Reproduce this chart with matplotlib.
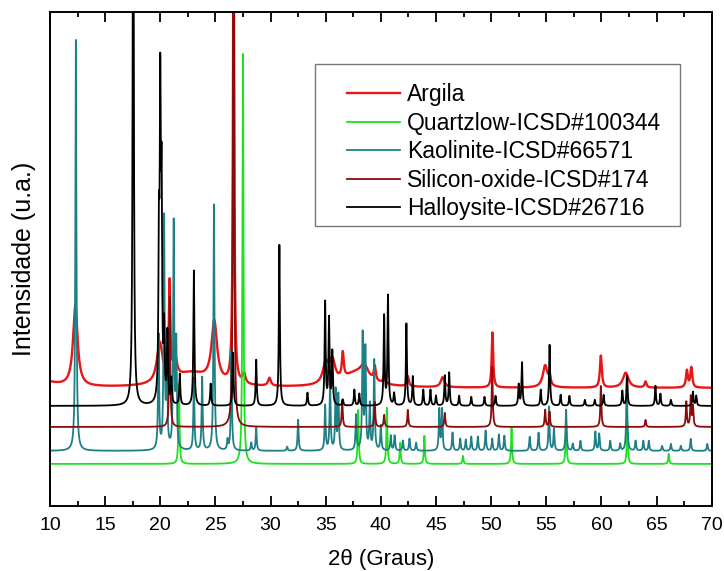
import numpy as np
import matplotlib
matplotlib.use("Agg")
import matplotlib.pyplot as plt
from matplotlib.patches import Rectangle

# peak lists: 2theta, height (px units), half width
argila_pos = [9.0, 12.3, 19.95, 20.85, 21.35, 22.8, 24.9, 26.65, 27.6, 29.9,
              35.0, 35.6, 36.55, 37.8, 38.5, 39.45, 40.3, 42.45, 45.6, 50.12,
              54.9, 55.3, 59.95, 62.2, 64.0, 67.75, 68.15]
argila_h   = [8, 80, 40, 95, 20, 14, 60, 480, 10, 8,
              20, 22, 25, 14, 12, 14, 8, 10, 10, 55,
              22, 10, 32, 15, 6, 17, 20]
argila_w   = [1.5, 0.25, 0.3, 0.08, 0.2, 2.0, 0.3, 0.07, 0.15, 0.15,
              0.3, 0.3, 0.1, 1.5, 0.4, 0.1, 0.1, 0.1, 0.2, 0.08,
              0.25, 0.1, 0.1, 0.3, 0.1, 0.1, 0.1]

quartz_pos = [21.7, 27.5, 37.95, 40.55, 41.75, 43.95, 47.45, 51.85, 56.8, 62.35, 66.1]
quartz_h   = [80, 410, 54, 56, 21, 28, 8, 36, 42, 42, 10]

kaol_pos = [12.35, 19.85, 20.35, 20.6, 21.22, 21.45, 23.05, 23.8, 24.87, 26.1,
            26.45, 28.25, 28.7, 31.5, 32.5, 34.95, 35.4, 35.9, 36.15, 37.75,
            38.35, 38.6, 39.0, 39.4, 40.0, 40.9, 41.25, 42.0, 42.6, 43.2,
            45.3, 45.55, 46.5, 47.2, 47.7, 48.2, 48.8, 49.5, 50.1, 50.7,
            51.2, 53.5, 54.3, 55.25, 55.7, 56.8, 57.4, 58.1, 59.45, 59.8,
            60.8, 61.7, 62.3, 63.1, 63.8, 64.3, 65.5, 66.3, 67.2, 68.1, 69.6]
kaol_h   = [411, 114, 231, 90, 225, 104, 72, 73, 246, 10,
            100, 8, 23, 4, 31, 45, 70, 60, 55, 35,
            115, 100, 45, 90, 25, 15, 15, 10, 12, 8,
            41, 41, 18, 12, 11, 14, 14, 20, 12, 16,
            15, 14, 18, 44, 22, 41, 7, 10, 19, 17,
            10, 7, 73, 10, 10, 10, 5, 7, 5, 12, 7]

sio2_pos = [20.86, 26.65, 36.5, 39.45, 40.3, 42.45, 45.8, 50.1, 54.9, 55.3,
            59.95, 64.0, 67.7, 68.1, 68.3]
sio2_h   = [130, 600, 27, 25, 12, 17, 14, 60, 17, 15,
            41, 7, 25, 30, 20]

hall_pos = [17.55, 19.88, 20.0, 20.12, 20.35, 20.65, 21.0, 21.77, 23.05, 24.57,
            26.6, 28.7, 30.8, 33.35, 34.95, 35.3, 35.6, 36.55, 37.6, 38.05,
            40.3, 40.65, 41.2, 42.32, 42.9, 43.85, 44.5, 45.0, 45.8, 46.2,
            47.1, 48.2, 49.4, 50.4, 52.5, 52.8, 54.5, 55.3, 56.3, 57.1,
            58.5, 59.4, 60.2, 61.9, 62.33, 64.9, 65.35, 66.3, 68.3, 68.6]
hall_h   = [700, 150, 290, 200, 70, 70, 25, 31, 135, 22,
            53, 46, 161, 13, 103, 86, 53, 6, 16, 12,
            89, 109, 12, 82, 29, 16, 16, 10, 30, 33,
            10, 9, 9, 10, 21, 43, 16, 61, 11, 10,
            6, 6, 11, 15, 30, 20, 12, 6, 14, 10]

labels = ["Argila", "Quartzlow-ICSD#100344", "Kaolinite-ICSD#66571",
          "Silicon-oxide-ICSD#174", "Halloysite-ICSD#26716"]

#_____________________________________________________________________________
def pattern(x, pos, hgt, wid):
    y = np.zeros_like(x)
    for p, h, g in zip(pos, hgt, wid):
        y += h*g**2/((x - p)**2 + g**2)
    return y

#_____________________________________________________________________________
def main():

    plt.rcParams["font.family"] = ["Liberation Sans", "DejaVu Sans"]

    x = np.linspace(10, 70, 6001)
    gsim = 0.055

    curves = [
        118 + pattern(x, argila_pos, argila_h, argila_w),
        42 + pattern(x, quartz_pos, quartz_h, [gsim]*len(quartz_pos)),
        55 + pattern(x, kaol_pos, kaol_h, [gsim]*len(kaol_pos)),
        79 + pattern(x, sio2_pos, sio2_h, [gsim]*len(sio2_pos)),
        100 + pattern(x, hall_pos, hall_h, [gsim]*len(hall_pos)),
    ]
    cols = ["#e81616", "#1fe01f", "#1f7f86", "#8b0a0a", "black"]
    lws = [1.7, 1.3, 1.3, 1.3, 1.3]

    fig = plt.figure(figsize=(7.24, 5.71), dpi=100)
    ax = fig.add_axes([0.069, 0.114, 0.914, 0.865])

    for c, col, lw, lab in zip(curves, cols, lws, labels):
        ax.plot(x, c, color=col, lw=lw, label=lab)

    ax.set_xlim(10, 70)
    ax.set_ylim(0, 494)
    ax.set_xticks(np.arange(10, 71, 5))
    ax.set_xticks(np.arange(12.5, 70, 5), minor=True)
    ax.set_yticks([])
    ax.tick_params(axis="x", which="both", direction="in", top=True, labelsize=14, pad=8)
    ax.tick_params(axis="x", which="major", length=7, width=1.3)
    ax.tick_params(axis="x", which="minor", length=3.5, width=1.3)
    for s in ax.spines.values():
        s.set_linewidth(1.4)

    ax.set_xlabel("2θ (Graus)", fontsize=16, labelpad=11)
    ax.set_ylabel("Intensidade (u.a.)", fontsize=18, labelpad=10)

    #legend frame drawn by hand
    ax.add_patch(Rectangle((0.40, 0.567), 0.552, 0.328, transform=ax.transAxes,
                           facecolor="white", edgecolor="#777777", lw=1.0, zorder=4))
    leg = ax.legend(loc="upper left", bbox_to_anchor=(0.425, 0.888), fontsize=16.5,
                    handlelength=2.3, handletextpad=0.3, labelspacing=0.24,
                    borderpad=0.7, borderaxespad=0, frameon=False)
    leg.set_zorder(5)

    fig.savefig("out.png", dpi=100)

#_____________________________________________________________________________
if __name__ == "__main__":

    main()
